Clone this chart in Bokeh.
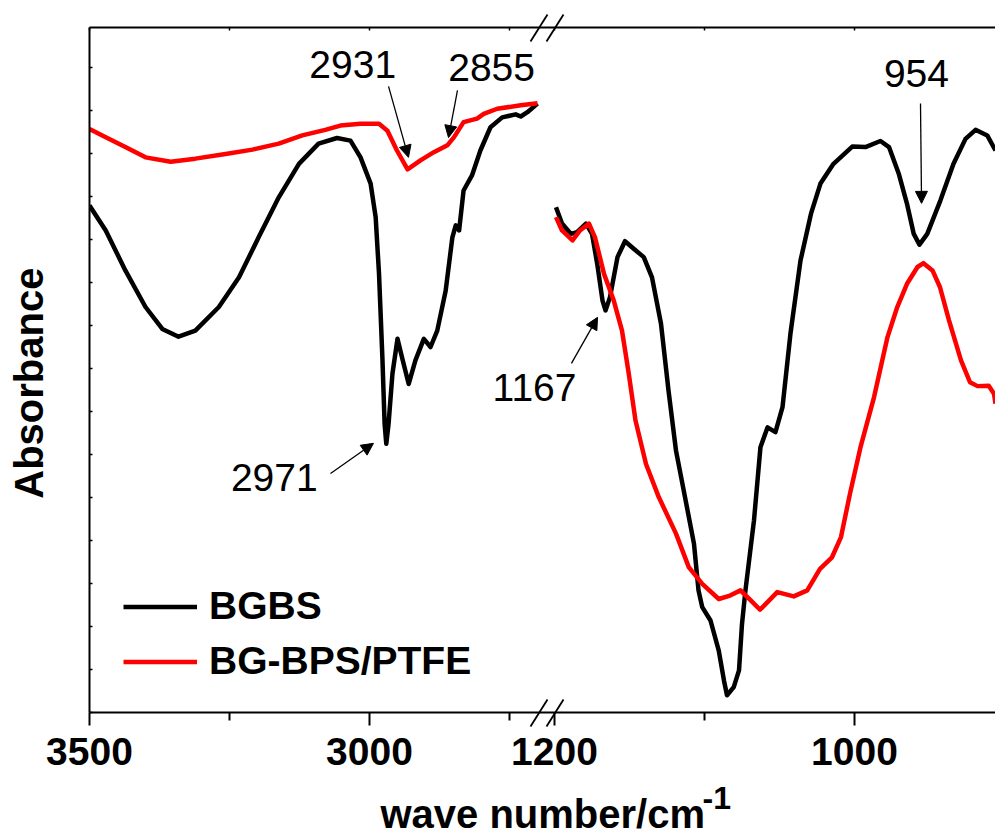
import math
from bokeh.plotting import figure
from bokeh.models import (Range1d, LinearAxis, FixedTicker, Legend, LegendItem,
                          Arrow, NormalHead)
from bokeh.core.properties import value
from bokeh.embed import file_html
from bokeh.resources import INLINE

FONT = "Liberation Sans"

# ---------------- data (wavenumber in cm^-1, absorbance in arbitrary units) -------------
# high-wavenumber window 3500-2700
bgbs_hi_x = [3500, 3471, 3436, 3400, 3370, 3341, 3311, 3269, 3233, 3198,
             3162, 3126, 3091, 3058, 3034, 3016, 2998, 2989, 2983, 2977,
             2973, 2970, 2966, 2959, 2950, 2942, 2930, 2918, 2903, 2891,
             2879, 2864, 2852, 2846, 2840, 2832, 2817, 2802, 2784, 2763,
             2739, 2730, 2718, 2700]
bgbs_hi_y = [11.79, 11.21, 10.28, 9.43, 8.92, 8.74, 8.88, 9.43, 10.12, 11.05,
             11.98, 12.76, 13.23, 13.36, 13.30, 12.91, 12.30, 11.52, 10.20, 8.26,
             6.71, 6.25, 6.71, 7.88, 8.69, 8.26, 7.64, 8.19, 8.69, 8.50,
             8.88, 9.81, 11.05, 11.33, 11.21, 12.14, 12.49, 13.07, 13.61, 13.84,
             13.91, 13.86, 13.96, 14.16]

ptfe_hi_x = [3500, 3471, 3436, 3400, 3355, 3311, 3257, 3209, 3162, 3120,
             3079, 3052, 3016, 2983, 2968, 2951, 2932, 2909, 2885, 2861,
             2849, 2832, 2808, 2796, 2772, 2730, 2700]
ptfe_hi_y = [13.57, 13.38, 13.15, 12.91, 12.81, 12.88, 12.99, 13.09, 13.23, 13.42,
             13.55, 13.65, 13.69, 13.69, 13.53, 13.07, 12.63, 12.84, 13.03, 13.19,
             13.38, 13.73, 13.81, 13.92, 14.04, 14.12, 14.17]

# low-wavenumber window 1200-900
bgbs_lo_x = [1199, 1195, 1189, 1185, 1179, 1175, 1171.5, 1168, 1166, 1163,
             1158, 1153, 1147, 1140.5, 1135, 1129, 1124, 1119, 1113, 1107,
             1104, 1101.5, 1096, 1090.5, 1087, 1085, 1080.5, 1077, 1075, 1072.7,
             1067, 1062.7, 1058, 1052.7, 1048, 1042.7, 1036, 1029, 1022.7, 1014,
             1001.5, 992.7, 982.7, 977, 970.5, 965, 960.5, 956.7, 951.5, 942.7,
             934, 926, 919.3, 911.5, 906]
bgbs_lo_y = [11.75, 11.37, 11.13, 11.17, 11.37, 11.13, 10.43, 9.58, 9.35, 9.66,
             10.59, 10.96, 10.78, 10.59, 10.12, 9.04, 7.49, 6.09, 5.01, 3.92,
             2.84, 2.45, 2.14, 1.44, 0.74, 0.40, 0.59, 0.98, 2.06, 2.84,
             4.47, 6.17, 6.63, 6.52, 7.10, 8.81, 10.51, 11.60, 12.30, 12.76,
             13.16, 13.15, 13.29, 13.15, 12.53, 11.83, 11.13, 10.88, 11.13, 11.91,
             12.76, 13.34, 13.55, 13.42, 13.07]

ptfe_lo_x = [1199, 1195, 1188, 1183, 1177, 1173, 1167, 1160.5, 1155, 1150.5,
             1146, 1139, 1130.5, 1119, 1110.5, 1101.5, 1090.5, 1083, 1076, 1069,
             1063, 1051.5, 1040.5, 1031.5, 1023, 1015, 1009, 1003, 996, 987,
             978, 971.5, 965, 958, 954, 948, 943, 937, 929, 923,
             918, 910.5, 907, 906]
ptfe_lo_y = [11.52, 11.21, 10.98, 11.21, 11.37, 11.05, 10.20, 9.58, 8.88, 7.88,
             6.79, 5.78, 5.01, 4.16, 3.38, 2.99, 2.64, 2.72, 2.84, 2.60,
             2.39, 2.80, 2.70, 2.84, 3.34, 3.61, 4.08, 5.09, 6.17, 7.33,
             8.73, 9.43, 9.97, 10.36, 10.45, 10.28, 9.89, 9.12, 8.19, 7.68,
             7.59, 7.60, 7.41, 7.18]

series_names = ["BGBS", "BG-BPS/PTFE"]
hi_major = [3500, 3000]
hi_minor = [3250, 2750]
lo_major = [1200, 1000]
lo_minor = [1100]

# peak annotations: (label, window, text x, text y, arrow x0, y0, x1, y1)
peaks = [
    ("2931", "hi", 3030, 15.07, 2966.0, 14.56, 2930.4, 12.91),
    ("2855", "hi", 2782, 15.00, 2842.9, 14.47, 2858.9, 13.37),
    ("2971", "hi", 3170, 5.47, 3069.6, 5.56, 2992.9, 6.26),
    ("1167", "lo", 1213.3, 7.56, 1188.7, 8.12, 1171.3, 9.19),
    ("954", "lo", 958.7, 14.87, 956.0, 14.16, 955.3, 11.84),
]

# ---------------- ranges (two windows share one frame) ----------------
HI_RANGE = (3500.0, 1882.14)   # default x range (left window)
LO_RANGE = (1510.0, 906.0)     # extra x range (right window)
Y_RANGE = (0.0, 15.93)


def hi_pos(wn):
    """position of a low-window wavenumber expressed in high-window units"""
    f = (LO_RANGE[0] - wn) / (LO_RANGE[0] - LO_RANGE[1])
    return round(HI_RANGE[0] - f * (HI_RANGE[0] - HI_RANGE[1]), 3)


p = figure(width=995, height=838,
           x_range=Range1d(*HI_RANGE), y_range=Range1d(*Y_RANGE),
           output_backend="svg", toolbar_location=None,
           min_border_left=89, min_border_right=0,
           min_border_top=27, min_border_bottom=126)
p.extra_x_ranges = {"lo": Range1d(*LO_RANGE)}
p.outline_line_color = None
p.xgrid.visible = False
p.ygrid.visible = False
p.background_fill_color = "white"
p.border_fill_color = "white"

ticks = hi_major + [hi_pos(v) for v in lo_major]
minors = hi_minor + [hi_pos(v) for v in lo_minor]
overrides = {t: str(t) for t in hi_major}
for v in lo_major:
    overrides[hi_pos(v)] = str(v)

xa = p.xaxis[0]
xa.ticker = FixedTicker(ticks=ticks, minor_ticks=minors)
xa.major_label_overrides = overrides
xa.major_label_text_font = FONT
xa.major_label_text_font_style = "bold"
xa.major_label_text_font_size = "39px"
xa.major_label_text_color = "black"
xa.major_label_standoff = 12
xa.major_tick_out = 13
xa.major_tick_in = 0
xa.minor_tick_out = 8
xa.minor_tick_in = 0
for attr in ("axis_line", "major_tick_line", "minor_tick_line"):
    setattr(xa, attr + "_width", 2)
    setattr(xa, attr + "_color", "black")

top = LinearAxis(ticker=FixedTicker(ticks=ticks, minor_ticks=minors),
                 major_label_overrides={t: "" for t in ticks},
                 major_label_text_font_size="1px", major_label_text_color=None,
                 major_label_standoff=0,
                 major_tick_in=3, major_tick_out=0, minor_tick_in=3, minor_tick_out=0,
                 axis_line_width=2, major_tick_line_width=1.5, minor_tick_line_width=1.5)
p.add_layout(top, "above")

ya = p.yaxis[0]
ya.ticker = FixedTicker(ticks=list(range(0, 16)), minor_ticks=[])
ya.major_label_overrides = {i: "" for i in range(0, 16)}
ya.major_label_text_font_size = "1px"
ya.major_label_text_color = None
ya.major_label_standoff = 0
ya.major_tick_in = 3
ya.major_tick_out = 0
ya.axis_line_width = 2
ya.major_tick_line_width = 1.5
ya.axis_line_color = "black"

# ---------------- curves ----------------
LW = 4.5
b_hi = p.line(bgbs_hi_x, bgbs_hi_y, line_color="black", line_width=LW, line_join="round")
r_hi = p.line(ptfe_hi_x, ptfe_hi_y, line_color="#ff0000", line_width=LW, line_join="round")
b_lo = p.line(bgbs_lo_x, bgbs_lo_y, line_color="black", line_width=LW, line_join="round",
              x_range_name="lo")
r_lo = p.line(ptfe_lo_x, ptfe_lo_y, line_color="#ff0000", line_width=LW, line_join="round",
              x_range_name="lo")

# ---------------- peak labels and arrows ----------------
for lab, win, tx, ty, ax0, ay0, ax1, ay1 in peaks:
    rn = "default" if win == "hi" else "lo"
    p.text(x=[tx], y=[ty], text=[lab], x_range_name=rn,
           text_font=value(FONT), text_font_size="39px", text_color="black",
           text_align="center", text_baseline="middle")
    p.add_layout(Arrow(end=NormalHead(size=12, fill_color="black", line_color="black",
                                      line_width=1),
                       x_start=ax0, y_start=ay0, x_end=ax1, y_end=ay1,
                       line_width=1.3, line_color="black", x_range_name=rn))

# ---------------- axis break marks ----------------
bx0 = [1216.0, 1205.33, 1216.0, 1205.33]
bx1 = [1204.67, 1194.0, 1204.67, 1194.0]
by0 = [-0.326, -0.326, 15.605, 15.605]
by1 = [0.302, 0.302, 16.233, 16.233]
p.segment(x0=bx0, y0=by0, x1=bx1, y1=by1, x_range_name="lo",
          line_color="black", line_width=1.8, level="overlay")

# ---------------- axis titles ----------------
p.text(x=[2980.4], y=[1.0], text=["wave number/cm"], y_offset=145,
       text_font=value(FONT), text_font_style="bold", text_font_size="40px",
       text_align="left", text_baseline="middle", level="overlay")
p.text(x=[2405.4], y=[1.0], text=["-1"], y_offset=129,
       text_font=value(FONT), text_font_style="bold", text_font_size="32px",
       text_align="left", text_baseline="middle", level="overlay")
p.text(x=[3499.0], y=[7.66], text=["Absorbance"], x_offset=-61.5, angle=math.pi / 2,
       text_font=value(FONT), text_font_style="bold", text_font_size="40px",
       text_align="center", text_baseline="middle", level="overlay")

# ---------------- legend ----------------
legend = Legend(items=[LegendItem(label=series_names[0], renderers=[b_hi]),
                       LegendItem(label=series_names[1], renderers=[r_hi])],
                location=(34, 28.5), padding=0, margin=0, spacing=10,
                glyph_width=74, glyph_height=45, label_height=45, label_standoff=12,
                label_text_font=FONT, label_text_font_style="bold",
                label_text_font_size="39px", label_text_color="black",
                border_line_color=None, background_fill_alpha=0)
p.add_layout(legend)

open("out.html", "w").write(file_html(p, INLINE))
